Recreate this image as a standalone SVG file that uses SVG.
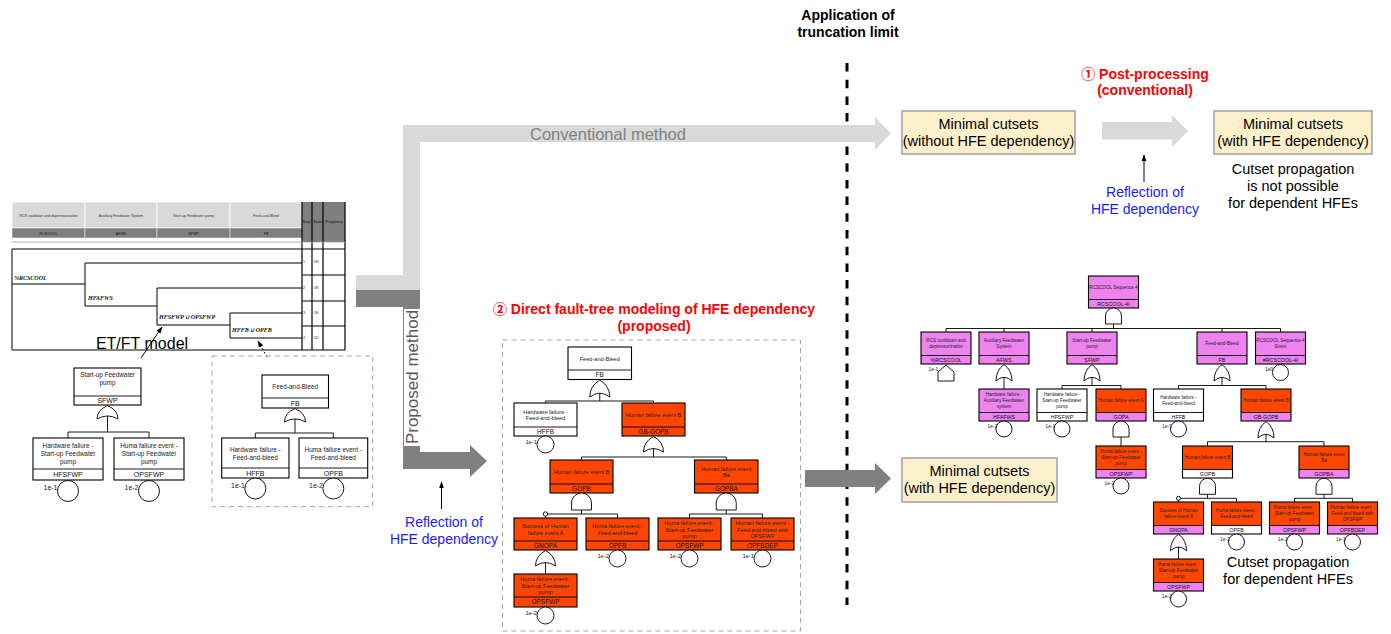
<svg xmlns="http://www.w3.org/2000/svg" width="1391" height="634" viewBox="0 0 1391 634">
<style>
text{font-family:"Liberation Sans",Arial,"Noto Sans CJK SC",sans-serif;}
.bx{stroke:#000;stroke-width:1.1;}
.fr{fill:none;stroke:#000;stroke-width:1.1;}
.w{fill:#fff}.o{fill:#ff4500}.v{fill:#ee82ee}
.g{fill:#fff;stroke:#000;stroke-width:0.9}
.c{fill:none;stroke:#000;stroke-width:0.9}
.ev{fill:#fff;stroke:#000;stroke-width:0.9}
.m5{font-size:5.6px;text-anchor:middle;fill:#222}
.m6{font-size:6.5px;text-anchor:middle;fill:#111}
.r4{font-size:4.6px;text-anchor:middle;fill:#222}
.r5{font-size:5.3px;text-anchor:middle;fill:#111}
.l6{font-size:6.4px;text-anchor:middle;fill:#222}
.l7{font-size:7px;text-anchor:middle;fill:#111}
.pm{font-size:5.8px;text-anchor:end;fill:#222}
.pr{font-size:4.7px;text-anchor:end;fill:#222}
.pl{font-size:7px;text-anchor:end;fill:#222}
.big{font-size:14.5px;text-anchor:middle;fill:#000}
.blue{font-size:14px;text-anchor:middle;fill:#1a1aff}
.red{font-size:14px;font-weight:bold;text-anchor:middle;fill:#ff0000}
.hd{font-size:14px;font-weight:bold;text-anchor:middle;fill:#000}
.mc{fill:#fdf0ca;stroke:#a0a0a0;stroke-width:1.5}
.et{fill:none;stroke:#000;stroke-width:1}
.etl{font-family:"Liberation Serif",serif;font-size:6px;font-style:italic;font-weight:bold;fill:#111}
.eh{font-size:3.6px;text-anchor:middle;fill:#333}
.es{font-size:3.5px;fill:#111}
.dash{fill:none;stroke:#a6a6a6;stroke-width:1;stroke-dasharray:5 4}
.arr{fill:none;stroke:#000;stroke-width:1}
</style>
<defs>
<marker id="ah" viewBox="0 0 10 10" refX="9" refY="5" markerWidth="7" markerHeight="7" markerUnits="userSpaceOnUse" orient="auto"><path d="M0,1.5 L10,5 L0,8.5 Z" fill="#000"/></marker>
</defs>

<!-- titles -->
<g id="titles">
<text class="hd" x="848" y="20">Application of</text>
<text class="hd" x="848" y="37">truncation limit</text>
<text class="red" x="1145" y="79">① Post-processing</text>
<text class="red" x="1145" y="95">(conventional)</text>
<text class="red" x="654" y="314">② Direct fault-tree modeling of HFE dependency</text>
<text class="red" x="654" y="331">(proposed)</text>
<text class="blue" x="1145" y="197">Reflection of</text>
<text class="blue" x="1145" y="214">HFE dependency</text>
<text class="blue" x="444" y="527">Reflection of</text>
<text class="blue" x="444" y="544">HFE dependency</text>
<text class="big" x="1293" y="174">Cutset propagation</text>
<text class="big" x="1293" y="191">is not possible</text>
<text class="big" x="1293" y="208">for dependent HFEs</text>
<text class="big" x="1288" y="567">Cutset propagation</text>
<text class="big" x="1288" y="584">for dependent HFEs</text>
<text x="142" y="349" style="font-size:16px;text-anchor:middle;fill:#000">ET/FT model</text>
</g>

<!-- truncation line -->
<line x1="847" y1="63" x2="847" y2="605" stroke="#000" stroke-width="3" stroke-dasharray="8.5 8.2"/>

<!-- big arrows -->
<g id="connectors">
<polygon points="356,275 403,275 403,125 875,125 875,117 891,133.5 875,150 875,142 420,142 420,290 356,290" fill="#d9d9d9"/>
<polygon points="356,290 420,290 420,452 470,452 470,445 487,461 470,477 470,469 403,469 403,307 356,307" fill="#808080"/>
<polygon points="805,470 875,470 875,463 891,478.5 875,494 875,487 805,487" fill="#808080"/>
<polygon points="1102,122 1172,122 1172,115 1188,131 1172,147 1172,139.5 1102,139.5" fill="#d9d9d9"/>
<rect x="404" y="309" width="17" height="137" fill="#fff"/>
<text x="608" y="140" style="font-size:16.5px;text-anchor:middle;fill:#808080">Conventional method</text>
<text transform="translate(418,377) rotate(-90)" style="font-size:17px;text-anchor:middle;fill:#595959">Proposed method</text>
<line class="arr" x1="441.5" y1="509" x2="441.5" y2="482" marker-end="url(#ah)"/>
<line class="arr" x1="1144" y1="182" x2="1144" y2="155" marker-end="url(#ah)"/>
<line class="arr" x1="141" y1="358" x2="162" y2="327" marker-end="url(#ah)"/>
<line class="arr" x1="267" y1="357" x2="258" y2="341" stroke-dasharray="2 2" marker-end="url(#ah)"/>

<!-- left FT connectors -->
<path class="c" d="M107.5,414 V432 M68,438 V432 H149 V438"/>
<path class="c" d="M295,417 V433 M255.35,438 V433 H333.35 V438"/>
<!-- middle FT connectors -->
<path class="c" d="M599.75,391 V401 M545.5,403 V401 H653.5 V403"/>
<path class="c" d="M653.5,446 V457 M581.5,460 V457 H726.25 V460"/>
<path class="c" d="M581.5,505 V514 M545.5,518 V514 H617.5 V518"/>
<path class="c" d="M726.25,505 V514 M689.5,518 V514 H762.5 V518"/>
<path class="c" d="M545.5,560 V574"/>
<!-- right FT connectors -->
<path class="c" d="M1113.5,318 V328.5 M946,332 V328.5 H1280.5 V332 M1004,328.5 V332 M1092,328.5 V332 M1222,328.5 V332"/>
<path class="c" d="M1004,375 V389"/>
<path class="c" d="M1092,375 V385.5 M1062,389 V385.5 H1121 V389"/>
<path class="c" d="M1222,375 V385.5 M1178.5,389 V385.5 H1266 V389"/>
<path class="c" d="M1121,431 V446"/>
<path class="c" d="M1266,432 V441.7 M1207.5,446 V441.7 H1324 V446"/>
<path class="c" d="M1207.5,488 V498.3 M1178.5,502 V498.3 H1236.5 V502"/>
<path class="c" d="M1324,488 V498.3 M1294.5,502 V498.3 H1352.5 V502"/>
<path class="c" d="M1178.5,545 V559"/>
</g>

<!-- Minimal cutsets boxes -->
<g id="mcs1"><rect class="mc" x="902" y="111" width="173" height="43"/><text class="big" x="988.5" y="129">Minimal cutsets</text><text class="big" x="988.5" y="146">(without HFE dependency)</text></g>
<g id="mcs2"><rect class="mc" x="1214" y="111" width="158" height="43"/><text class="big" x="1293" y="129">Minimal cutsets</text><text class="big" x="1293" y="146">(with HFE dependency)</text></g>
<g id="mcs3"><rect class="mc" x="902" y="458" width="155" height="44"/><text class="big" x="979.5" y="476">Minimal cutsets</text><text class="big" x="979.5" y="493">(with HFE dependency)</text></g>

<!-- Event tree table -->
<g id="et-table">
<rect x="12" y="202" width="73" height="26" fill="#d9d9d9" stroke="#fff" stroke-width="0.8"/>
<rect x="85" y="202" width="72" height="26" fill="#d9d9d9" stroke="#fff" stroke-width="0.8"/>
<rect x="157" y="202" width="73" height="26" fill="#d9d9d9" stroke="#fff" stroke-width="0.8"/>
<rect x="230" y="202" width="72" height="26" fill="#d9d9d9" stroke="#fff" stroke-width="0.8"/>
<rect x="12" y="228" width="73" height="10" fill="#7f7f7f" stroke="#fff" stroke-width="0.5"/>
<rect x="85" y="228" width="72" height="10" fill="#7f7f7f" stroke="#fff" stroke-width="0.5"/>
<rect x="157" y="228" width="73" height="10" fill="#7f7f7f" stroke="#fff" stroke-width="0.5"/>
<rect x="230" y="228" width="72" height="10" fill="#7f7f7f" stroke="#fff" stroke-width="0.5"/>
<rect x="302" y="202" width="43" height="40" fill="#7f7f7f"/>
<path d="M302,202 V350 M312,202 V350 M323,202 V350 M345,202 V350" stroke="#000" stroke-width="1.2" fill="none"/>
<path d="M302,249 H345 M302,275 H345 M302,301 H345 M302,326 H345 M302,350 H345" stroke="#000" stroke-width="1.2" fill="none"/>
<line x1="12" y1="242" x2="345" y2="242" stroke="#999" stroke-width="0.8"/>
<path class="et" d="M12,249 H302 M12,249 V350 H302"/>
<text class="eh" x="48.5" y="216.5">RCS cooldown and depressurization</text>
<text class="eh" x="121" y="216.5">Auxiliary Feedwater System</text>
<text class="eh" x="193.5" y="216.5">Start-up Feedwater pump</text>
<text class="eh" x="266" y="216.5">Feed-and-Bleed</text>
<text class="eh" x="48.5" y="234.5" style="fill:#111">RCSCOOL</text>
<text class="eh" x="121" y="234.5" style="fill:#111">AFWS</text>
<text class="eh" x="193.5" y="234.5" style="fill:#111">SFWP</text>
<text class="eh" x="266" y="234.5" style="fill:#111">FB</text>
<text class="eh" x="307" y="223" style="fill:#111">Seq#</text>
<text class="eh" x="317.5" y="223" style="fill:#111">State</text>
<text class="eh" x="334" y="223" style="fill:#111">Frequency</text>
<text class="es" x="303" y="263">1</text><text class="es" x="313.5" y="263">OK</text>
<text class="es" x="303" y="289">2</text><text class="es" x="313.5" y="289">OK</text>
<text class="es" x="303" y="314">3</text><text class="es" x="313.5" y="314">OK</text>
<text class="es" x="303" y="339">4</text><text class="es" x="313.5" y="339">CD</text>
<path class="et" d="M12,284 H85 M85,263 V306 M85,263 H302 M85,306 H157 M157,288 V325 M157,288 H302 M157,325 H230 M230,313 V338 M230,313 H302 M230,338 H302"/>
<text class="etl" x="14" y="280">%RCSCOOL</text>
<text class="etl" x="88" y="300">HFAFWS</text>
<text class="etl" x="159" y="319">HFSFWP ∪ OPSFWP</text>
<text class="etl" x="232" y="332">HFFB ∪ OPFB</text>
</g>

<!-- dashed boxes -->
<rect class="dash" x="212" y="356" width="160.7" height="150.7"/>
<rect class="dash" x="502.5" y="340" width="298" height="291"/>

<!-- Left fault tree -->
<g id="l-sfwp"><rect class="bx w" x="74" y="368" width="67" height="37"/><line class="c" x1="74" y1="396" x2="141" y2="396"/><text class="l6" x="107.5" y="377.3">Start-up Feedwater</text><text class="l6" x="107.5" y="385.3">pump</text><text class="l7" x="107.5" y="403">SFWP</text>
<path class="g" d="M97,419 Q97,410.2 107.5,405.5 Q118,410.2 118,419 Q107.5,412.9 97,419Z"/></g>
<g id="l-hfsfwp"><rect class="bx w" x="33" y="438" width="70" height="42"/><line class="c" x1="33" y1="469" x2="103" y2="469"/><text class="l6" x="68" y="448">Hardware failure -</text><text class="l6" x="68" y="456.3">Start-up Feedwater</text><text class="l6" x="68" y="464">pump</text><text class="l7" x="68" y="477">HFSFWP</text>
<circle class="ev" cx="68" cy="491" r="10.5"/><text class="pl" x="57.5" y="490">1e-1</text></g>
<g id="l-opsfwp"><rect class="bx w" x="114" y="438" width="70" height="42"/><line class="c" x1="114" y1="469" x2="184" y2="469"/><text class="l6" x="149" y="448">Huma failure event -</text><text class="l6" x="149" y="456.3">Start-up Feedwater</text><text class="l6" x="149" y="464">pump</text><text class="l7" x="149" y="477">OPSFWP</text>
<circle class="ev" cx="149" cy="491" r="10.5"/><text class="pl" x="138.5" y="490">1e-2</text></g>
<g id="l-fb"><rect class="bx w" x="262" y="375" width="66.5" height="33"/><line class="c" x1="262" y1="398" x2="328.5" y2="398"/><text class="l6" x="295.25" y="388.8">Feed-and-Bleed</text><text class="l7" x="295.25" y="405.5">FB</text>
<path class="g" d="M284.5,422 Q284.5,413.2 295,408.5 Q305.5,413.2 305.5,422 Q295,415.9 284.5,422Z"/></g>
<g id="l-hffb"><rect class="bx w" x="221.7" y="438" width="67.3" height="40"/><line class="c" x1="221.7" y1="468" x2="289" y2="468"/><text class="l6" x="255.35" y="451.6">Hardware failure -</text><text class="l6" x="255.35" y="459.6">Feed-and-bleed</text><text class="l7" x="255.35" y="475.5">HFFB</text>
<circle class="ev" cx="255.35" cy="488.5" r="10.5"/><text class="pl" x="245" y="488">1e-1</text></g>
<g id="l-opfb"><rect class="bx w" x="299" y="438" width="68.7" height="40"/><line class="c" x1="299" y1="468" x2="367.7" y2="468"/><text class="l6" x="333.35" y="451.6">Huma failure event -</text><text class="l6" x="333.35" y="459.6">Feed-and-bleed</text><text class="l7" x="333.35" y="475.5">OPFB</text>
<circle class="ev" cx="333.35" cy="488.5" r="10.5"/><text class="pl" x="323" y="488">1e-2</text></g>

<!-- Middle fault tree -->
<g id="m-fb"><rect class="bx w" x="568" y="347" width="63.5" height="32.5"/><line class="c" x1="568" y1="370" x2="631.5" y2="370"/><text class="m5" x="599.75" y="360.5">Feed-and-Bleed</text><text class="m6" x="599.75" y="377">FB</text>
<path class="g" d="M589.75,397 Q589.75,386 599.75,380 Q609.75,386 609.75,397 Q599.75,389.35 589.75,397Z"/></g>
<g id="m-hffb"><rect class="bx w" x="514" y="403" width="63" height="33"/><line class="c" x1="514" y1="427" x2="577" y2="427"/><text class="m5" x="545.5" y="413.9">Hardware failure -</text><text class="m5" x="545.5" y="420.1">Feed-and-bleed</text><text class="m6" x="545.5" y="433.8">HFFB</text>
<circle class="ev" cx="545.5" cy="444.5" r="8.5"/><text class="pm" x="537" y="443.5">1e-1</text></g>
<g id="m-gbgopb"><rect class="bx o" x="622" y="403" width="63" height="33"/><line class="c" x1="622" y1="427" x2="685" y2="427"/><text class="m5" x="653.5" y="417">Human failure event B</text><text class="m6" x="653.5" y="433.8">GB-GOPB</text>
<path class="g" d="M643.5,452 Q643.5,441.9 653.5,436.5 Q663.5,441.9 663.5,452 Q653.5,445 643.5,452Z"/></g>
<g id="m-gopb"><rect class="bx o" x="550" y="460" width="63" height="33"/><line class="c" x1="550" y1="484" x2="613" y2="484"/><text class="m5" x="581.5" y="474">Human failure event B</text><text class="m6" x="581.5" y="490.8">GOPB</text>
<path class="g" d="M571.5,510 V503 A10,10 0 0 1 591.5,503 V510Z"/></g>
<g id="m-gopba"><rect class="bx o" x="694.5" y="460" width="63.5" height="33"/><line class="c" x1="694.5" y1="484" x2="758" y2="484"/><text class="m5" x="726.25" y="470.9">Human failure event</text><text class="m5" x="726.25" y="477.1">Ba</text><text class="m6" x="726.25" y="490.8">GOPBA</text>
<path class="g" d="M716.25,510 V503 A10,10 0 0 1 736.25,503 V510Z"/></g>
<g id="m-gnopa"><rect class="bx o" x="514" y="518" width="63" height="32"/><line class="c" x1="514" y1="541" x2="577" y2="541"/><text class="m5" x="545.5" y="528.4">Success of Human</text><text class="m5" x="545.5" y="534.6">failure event A</text><text class="m6" x="545.5" y="547.8">GNOPA</text>
<circle class="ev" cx="545.5" cy="514" r="2.2"/>
<path class="g" d="M535.5,566 Q535.5,555.9 545.5,550.5 Q555.5,555.9 555.5,566 Q545.5,559 535.5,566Z"/></g>
<g id="m-opfb"><rect class="bx o" x="586" y="518" width="63" height="32"/><line class="c" x1="586" y1="541" x2="649" y2="541"/><text class="m5" x="617.5" y="528.4">Huma failure event -</text><text class="m5" x="617.5" y="534.6">Feed-and-bleed</text><text class="m6" x="617.5" y="547.8">OPFB</text>
<circle class="ev" cx="617.5" cy="558.5" r="8.5"/><text class="pm" x="609" y="557.5">1e-2</text></g>
<g id="m-opsfwp"><rect class="bx o" x="658" y="518" width="63" height="32"/><line class="c" x1="658" y1="541" x2="721" y2="541"/><text class="m5" x="689.5" y="525.3">Huma failure event -</text><text class="m5" x="689.5" y="531.5">Start-up Feedwater</text><text class="m5" x="689.5" y="537.7">pump</text><text class="m6" x="689.5" y="547.8">OPSFWP</text>
<circle class="ev" cx="689.5" cy="558.5" r="8.5"/><text class="pm" x="681" y="557.5">1e-2</text></g>
<g id="m-opfbdep"><rect class="bx o" x="731" y="518" width="63" height="32"/><line class="c" x1="731" y1="541" x2="794" y2="541"/><text class="m5" x="762.5" y="525.3">Human failure event -</text><text class="m5" x="762.5" y="531.5">Feed-and-bleed with</text><text class="m5" x="762.5" y="537.7">OPSFWP</text><text class="m6" x="762.5" y="547.8">OPFBDEP</text>
<circle class="ev" cx="762.5" cy="558.5" r="8.5"/><text class="pm" x="754" y="557.5">1e-1</text></g>
<g id="m-opsfwp2"><rect class="bx o" x="514" y="574" width="63" height="33"/><line class="c" x1="514" y1="597" x2="577" y2="597"/><text class="m5" x="545.5" y="581.3">Huma failure event -</text><text class="m5" x="545.5" y="587.5">Start-up Feedwater</text><text class="m5" x="545.5" y="593.7">pump</text><text class="m6" x="545.5" y="604.3">OPSFWP</text>
<circle class="ev" cx="545.5" cy="615.5" r="8.5"/><text class="pm" x="537" y="614.5">1e-2</text></g>

<!-- Right fault tree -->
<g id="r-top"><rect class="v" x="1088.5" y="276" width="50" height="32"/><rect class="fr" x="1088.5" y="276" width="50" height="32"/><line class="c" x1="1088.5" y1="299.5" x2="1138.5" y2="299.5"/><text class="r4" x="1113.5" y="289.4">RCSCOOL Sequence 4</text><text class="r5" x="1113.5" y="305.6">RCSCOOL-4I</text>
<path class="g" d="M1105.5,324 V316 A8,8 0 0 1 1121.5,316 V324Z"/></g>
<g id="r-rcscool"><rect class="v" x="921" y="332" width="50" height="32"/><rect class="fr" x="921" y="332" width="50" height="32"/><line class="c" x1="921" y1="355.5" x2="971" y2="355.5"/><text class="r4" x="946" y="342.4">RCS cooldown and</text><text class="r4" x="946" y="348.4">depressurization</text><text class="r5" x="946" y="361.6">%RCSCOOL</text>
<path class="g" d="M938,381 V372 L946,365 L954,372 V381Z"/><text class="pr" x="938" y="371">1e-1</text></g>
<g id="r-afws"><rect class="v" x="979" y="332" width="50" height="32"/><rect class="fr" x="979" y="332" width="50" height="32"/><line class="c" x1="979" y1="355.5" x2="1029" y2="355.5"/><text class="r4" x="1004" y="342.4">Auxiliary Feedwater</text><text class="r4" x="1004" y="348.4">System</text><text class="r5" x="1004" y="361.6">AFWS</text>
<path class="g" d="M996,381 Q996,370.3 1004,364.5 Q1012,370.3 1012,381 Q1004,373.6 996,381Z"/></g>
<g id="r-sfwp"><rect class="v" x="1067" y="332" width="50" height="32"/><rect class="fr" x="1067" y="332" width="50" height="32"/><line class="c" x1="1067" y1="355.5" x2="1117" y2="355.5"/><text class="r4" x="1092" y="342.4">Start-up Feedwater</text><text class="r4" x="1092" y="348.4">pump</text><text class="r5" x="1092" y="361.6">SFWP</text>
<path class="g" d="M1084,381 Q1084,370.3 1092,364.5 Q1100,370.3 1100,381 Q1092,373.6 1084,381Z"/></g>
<g id="r-fb"><rect class="v" x="1197" y="332" width="50" height="32"/><rect class="fr" x="1197" y="332" width="50" height="32"/><line class="c" x1="1197" y1="355.5" x2="1247" y2="355.5"/><text class="r4" x="1222" y="345.4">Feed-and-Bleed</text><text class="r5" x="1222" y="361.6">FB</text>
<path class="g" d="M1214,381 Q1214,370.3 1222,364.5 Q1230,370.3 1230,381 Q1222,373.6 1214,381Z"/></g>
<g id="r-rc4i"><rect class="v" x="1255.5" y="332" width="50" height="32"/><rect class="fr" x="1255.5" y="332" width="50" height="32"/><line class="c" x1="1255.5" y1="355.5" x2="1305.5" y2="355.5"/><text class="r4" x="1280.5" y="342.4">RCSCOOL Sequence 4</text><text class="r4" x="1280.5" y="348.4">Event</text><text class="r5" x="1280.5" y="361.6">#RCSCOOL-4I</text>
<circle class="ev" cx="1280.5" cy="372.5" r="8"/><text class="pr" x="1273" y="371">1e0</text></g>
<g id="r-hfafws"><rect class="v" x="979" y="389" width="50" height="32"/><rect class="fr" x="979" y="389" width="50" height="32"/><line class="c" x1="979" y1="412.5" x2="1029" y2="412.5"/><text class="r4" x="1004" y="396.4">Hardware failure -</text><text class="r4" x="1004" y="402.4">Auxiliary Feedwater</text><text class="r4" x="1004" y="408.4">system</text><text class="r5" x="1004" y="418.6">HFAFWS</text>
<circle class="ev" cx="1004" cy="429" r="8"/><text class="pr" x="997" y="428">1e-2</text></g>
<g id="r-hfsfwp"><rect class="w" x="1037" y="389" width="50" height="32"/><rect class="fr" x="1037" y="389" width="50" height="32"/><line class="c" x1="1037" y1="412.5" x2="1087" y2="412.5"/><text class="r4" x="1062" y="396.4">Hardware failure -</text><text class="r4" x="1062" y="402.4">Start-up Feedwater</text><text class="r4" x="1062" y="408.4">pump</text><text class="r5" x="1062" y="418.6">HFSFWP</text>
<circle class="ev" cx="1062" cy="429" r="8"/><text class="pr" x="1055" y="428">1e-1</text></g>
<g id="r-gopa"><rect class="o" x="1096" y="389" width="50" height="23.5"/><rect class="v" x="1096" y="412.5" width="50" height="8.5"/><rect class="fr" x="1096" y="389" width="50" height="32"/><line class="c" x1="1096" y1="412.5" x2="1146" y2="412.5"/><text class="r4" x="1121" y="402.4">Human failure event A</text><text class="r5" x="1121" y="418.6">GOPA</text>
<path class="g" d="M1113,437 V429 A8,8 0 0 1 1129,429 V437Z"/></g>
<g id="r-hffb"><rect class="w" x="1153.5" y="389" width="50" height="32"/><rect class="fr" x="1153.5" y="389" width="50" height="32"/><line class="c" x1="1153.5" y1="412.5" x2="1203.5" y2="412.5"/><text class="r4" x="1178.5" y="399.4">Hardware failure -</text><text class="r4" x="1178.5" y="405.4">Feed-and-bleed</text><text class="r5" x="1178.5" y="418.6">HFFB</text>
<circle class="ev" cx="1178.5" cy="429" r="8"/><text class="pr" x="1171.5" y="428">1e-1</text></g>
<g id="r-gbgopb"><rect class="o" x="1241" y="389" width="50" height="23.5"/><rect class="v" x="1241" y="412.5" width="50" height="8.5"/><rect class="fr" x="1241" y="389" width="50" height="32"/><line class="c" x1="1241" y1="412.5" x2="1291" y2="412.5"/><text class="r4" x="1266" y="402.4">Human failure event B</text><text class="r5" x="1266" y="418.6">GB-GOPB</text>
<path class="g" d="M1258,438 Q1258,427.3 1266,421.5 Q1274,427.3 1274,438 Q1266,430.6 1258,438Z"/></g>
<g id="r-opsfwp1"><rect class="o" x="1096" y="446" width="50" height="23.5"/><rect class="v" x="1096" y="469.5" width="50" height="8.5"/><rect class="fr" x="1096" y="446" width="50" height="32"/><line class="c" x1="1096" y1="469.5" x2="1146" y2="469.5"/><text class="r4" x="1121" y="453.4">Huma failure event -</text><text class="r4" x="1121" y="459.4">Start-up Feedwater</text><text class="r4" x="1121" y="465.4">pump</text><text class="r5" x="1121" y="475.6">OPSFWP</text>
<circle class="ev" cx="1121" cy="486" r="8"/><text class="pr" x="1114" y="485">1e-2</text></g>
<g id="r-gopb"><rect class="o" x="1182.5" y="446" width="50" height="23.5"/><rect class="w" x="1182.5" y="469.5" width="50" height="8.5"/><rect class="fr" x="1182.5" y="446" width="50" height="32"/><line class="c" x1="1182.5" y1="469.5" x2="1232.5" y2="469.5"/><text class="r4" x="1207.5" y="459.4">Human failure event B</text><text class="r5" x="1207.5" y="475.6">GOPB</text>
<path class="g" d="M1199.5,494.3 V486.3 A8,8 0 0 1 1215.5,486.3 V494.3Z"/></g>
<g id="r-gopba"><rect class="o" x="1299" y="446" width="50" height="23.5"/><rect class="v" x="1299" y="469.5" width="50" height="8.5"/><rect class="fr" x="1299" y="446" width="50" height="32"/><line class="c" x1="1299" y1="469.5" x2="1349" y2="469.5"/><text class="r4" x="1324" y="456.4">Human failure event</text><text class="r4" x="1324" y="462.4">Ba</text><text class="r5" x="1324" y="475.6">GOPBA</text>
<path class="g" d="M1316,494.3 V486.3 A8,8 0 0 1 1332,486.3 V494.3Z"/></g>
<g id="r-gnopa"><rect class="o" x="1153.5" y="502" width="50" height="23.5"/><rect class="v" x="1153.5" y="525.5" width="50" height="8.5"/><rect class="fr" x="1153.5" y="502" width="50" height="32"/><line class="c" x1="1153.5" y1="525.5" x2="1203.5" y2="525.5"/><text class="r4" x="1178.5" y="512.4">Success of Human</text><text class="r4" x="1178.5" y="518.4">failure event A</text><text class="r5" x="1178.5" y="531.6">GNOPA</text>
<circle class="ev" cx="1178.5" cy="498.3" r="2"/>
<path class="g" d="M1170.5,550.7 Q1170.5,540 1178.5,534.2 Q1186.5,540 1186.5,550.7 Q1178.5,543.3 1170.5,550.7Z"/></g>
<g id="r-opfb"><rect class="o" x="1211.5" y="502" width="50" height="23.5"/><rect class="w" x="1211.5" y="525.5" width="50" height="8.5"/><rect class="fr" x="1211.5" y="502" width="50" height="32"/><line class="c" x1="1211.5" y1="525.5" x2="1261.5" y2="525.5"/><text class="r4" x="1236.5" y="512.4">Huma failure event -</text><text class="r4" x="1236.5" y="518.4">Feed-and-bleed</text><text class="r5" x="1236.5" y="531.6">OPFB</text>
<circle class="ev" cx="1236.5" cy="542" r="8"/><text class="pr" x="1229.5" y="541">1e-2</text></g>
<g id="r-opsfwp2"><rect class="o" x="1269.5" y="502" width="50" height="23.5"/><rect class="v" x="1269.5" y="525.5" width="50" height="8.5"/><rect class="fr" x="1269.5" y="502" width="50" height="32"/><line class="c" x1="1269.5" y1="525.5" x2="1319.5" y2="525.5"/><text class="r4" x="1294.5" y="509.4">Huma failure event -</text><text class="r4" x="1294.5" y="515.4">Start-up Feedwater</text><text class="r4" x="1294.5" y="521.4">pump</text><text class="r5" x="1294.5" y="531.6">OPSFWP</text>
<circle class="ev" cx="1294.5" cy="542" r="8"/><text class="pr" x="1287.5" y="541">1e-2</text></g>
<g id="r-opfbdep"><rect class="o" x="1327.5" y="502" width="50" height="23.5"/><rect class="v" x="1327.5" y="525.5" width="50" height="8.5"/><rect class="fr" x="1327.5" y="502" width="50" height="32"/><line class="c" x1="1327.5" y1="525.5" x2="1377.5" y2="525.5"/><text class="r4" x="1352.5" y="509.4">Human failure event -</text><text class="r4" x="1352.5" y="515.4">Feed-and-bleed with</text><text class="r4" x="1352.5" y="521.4">OPSFWP</text><text class="r5" x="1352.5" y="531.6">OPFBDEP</text>
<circle class="ev" cx="1352.5" cy="542" r="8"/><text class="pr" x="1345.5" y="541">1e-1</text></g>
<g id="r-opsfwp3"><rect class="o" x="1153.5" y="559" width="50" height="23.5"/><rect class="v" x="1153.5" y="582.5" width="50" height="8.5"/><rect class="fr" x="1153.5" y="559" width="50" height="32"/><line class="c" x1="1153.5" y1="582.5" x2="1203.5" y2="582.5"/><text class="r4" x="1178.5" y="566.4">Huma failure event -</text><text class="r4" x="1178.5" y="572.4">Start-up Feedwater</text><text class="r4" x="1178.5" y="578.4">pump</text><text class="r5" x="1178.5" y="588.6">OPSFWP</text>
<circle class="ev" cx="1178.5" cy="599" r="8"/><text class="pr" x="1171.5" y="598">1e-2</text></g>
</svg>
